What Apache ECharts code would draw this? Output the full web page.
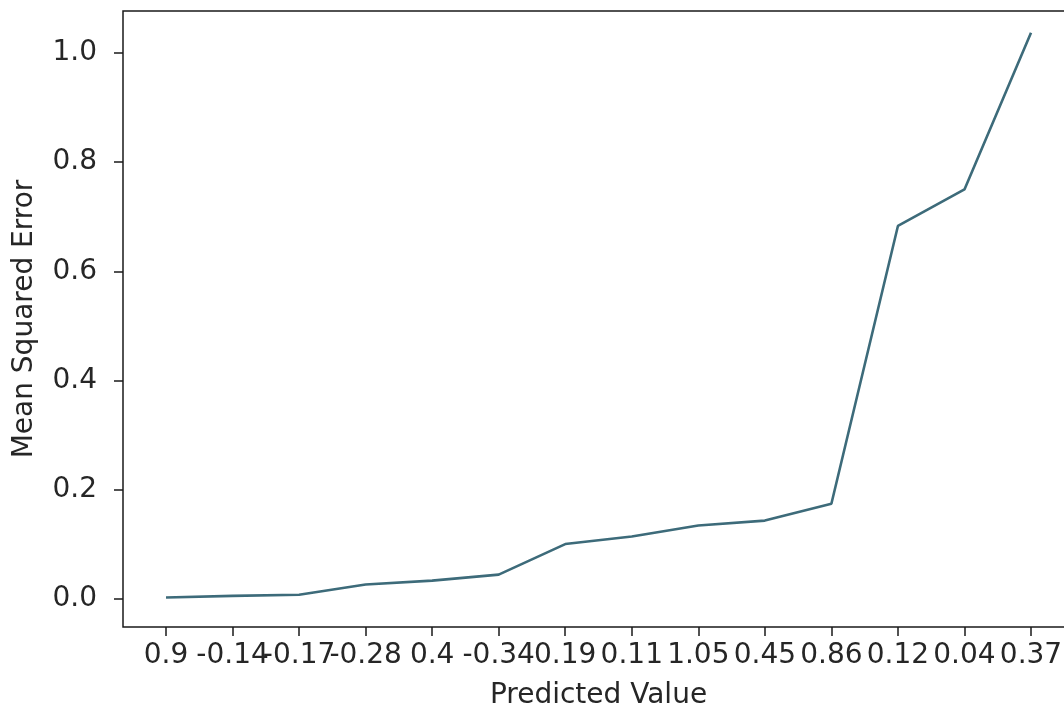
<!DOCTYPE html>
<html>
<head>
<meta charset="utf-8">
<script src="https://cdn.jsdelivr.net/npm/echarts@6/dist/echarts.min.js"></script>
<style>
html,body{margin:0;padding:0;background:#fff;}
#chart{width:1064px;height:711px;}
</style>
</head>
<body>
<div id="chart"></div>
<script>
const categories = ['0.9','-0.14','-0.17','-0.28','0.4','-0.34','0.19','0.11','1.05','0.45','0.86','0.12','0.04','0.37'];
const mseValues = [0.002, 0.005, 0.007, 0.026, 0.033, 0.044, 0.100, 0.114, 0.134, 0.143, 0.174, 0.683, 0.750, 1.037];
const yTicks = [0, 0.2, 0.4, 0.6, 0.8, 1.0];
const xTitle = 'Predicted Value';
const yTitle = 'Mean Squared Error';

const FONT = 'DejaVu Sans';
const FS = 28;
const chart = echarts.init(document.getElementById('chart'));
chart.setOption({
  animation: false,
  backgroundColor: '#ffffff',
  grid: [
    {left: 123, top: 11, width: 943, bottom: 84, show: true, borderColor: '#1a1a1a', borderWidth: 1.5, backgroundColor: 'transparent', containLabel: false, outerBoundsMode: 'none'},
    {left: 166, top: 11, right: 33, bottom: 84, containLabel: false, outerBoundsMode: 'none'}
  ],
  xAxis: [
    {gridIndex: 0, type: 'value', show: false, min: 0, max: 1},
    {
      gridIndex: 1, type: 'category', data: categories, boundaryGap: false,
      axisLine: {show: true, onZero: false, lineStyle: {color: 'rgba(0,0,0,0)', width: 0}},
      axisTick: {show: true, alignWithLabel: true, inside: false, length: 9, lineStyle: {color: '#1a1a1a', width: 1.5}},
      axisLabel: {interval: 0, color: '#262626', fontFamily: FONT, fontSize: FS, margin: 15},
      splitLine: {show: false},
      name: xTitle, nameLocation: 'middle', nameGap: 55,
      nameTextStyle: {color: '#262626', fontFamily: FONT, fontSize: FS}
    }
  ],
  yAxis: [
    {gridIndex: 0, type: 'value', show: false, min: 0, max: 1},
    {
      gridIndex: 1, type: 'value', min: -0.052, max: 1.077, offset: 43,
      axisLine: {show: false},
      axisTick: {show: true, length: 9, customValues: yTicks, lineStyle: {color: '#1a1a1a', width: 1.5}},
      axisLabel: {
        color: '#262626', fontFamily: FONT, fontSize: FS, margin: 26,
        customValues: yTicks,
        formatter: v => v.toFixed(1)
      },
      splitLine: {show: false},
      name: yTitle, nameLocation: 'middle', nameGap: 84, nameRotate: 90,
      nameTextStyle: {color: '#262626', fontFamily: FONT, fontSize: FS}
    }
  ],
  series: [{
    type: 'line', xAxisIndex: 1, yAxisIndex: 1,
    data: mseValues,
    showSymbol: false, symbol: 'none',
    lineStyle: {color: '#3d6b7a', width: 2.6}
  }]
});
</script>
</body>
</html>
